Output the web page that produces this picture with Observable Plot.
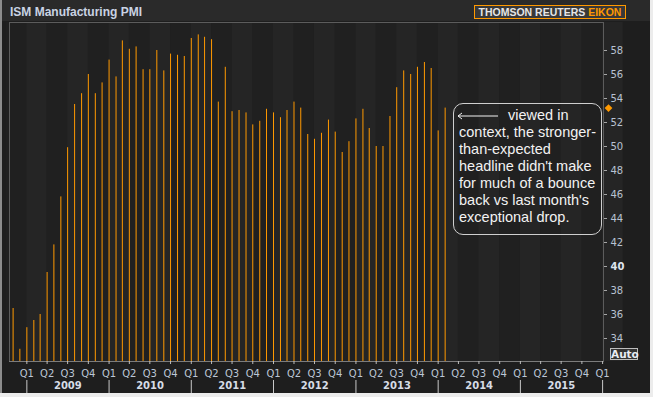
<!DOCTYPE html>
<html><head><meta charset="utf-8">
<script src="https://cdn.jsdelivr.net/npm/d3@7"></script>
<script src="https://cdn.jsdelivr.net/npm/@observablehq/plot@0.6"></script>
<style>
html,body{margin:0;padding:0;background:#ececec;}
#wrap{position:relative;width:653px;height:397px;overflow:hidden;}
#panel{position:absolute;left:0;top:0;width:650px;height:393px;background:#1e1e1e;border-left:2px solid #8c8c8c;box-sizing:border-box;}
#header{position:absolute;left:2px;top:0;width:648px;height:21px;background:#2a2a2a;}
#title{position:absolute;left:10px;top:5px;font:bold 12px "Liberation Sans",Arial,sans-serif;color:#c9d3e3;line-height:14px;white-space:nowrap;}
#logo{position:absolute;left:474px;top:5px;width:150px;height:12px;border:1px solid #ff9900;background:#383838;font:bold 10.5px "Liberation Sans",Arial,sans-serif;color:#e6e6e6;line-height:12px;text-align:center;white-space:nowrap;}
#logo span{color:#ff9900;}
#chart{position:absolute;left:0;top:0;}
#note{position:absolute;left:453px;top:103px;width:149px;height:132px;box-sizing:border-box;border:1.5px solid #cfcfcf;border-radius:10px;padding:3px 0 0 5px;font:14.5px "Liberation Sans",Arial,sans-serif;line-height:17px;color:#f2f2f2;white-space:nowrap;}
#note svg{vertical-align:middle;margin:0 8px 0 -3px;}
#auto{position:absolute;left:610px;top:348px;width:28px;height:12px;box-sizing:border-box;border:1px solid #bdbdbd;background:#333;font:bold 10.5px "DejaVu Sans",sans-serif;color:#e8ecf2;line-height:10px;text-align:center;}
</style></head>
<body>
<div id="wrap">
  <div id="panel"></div>
  <div id="header"></div>
  <div id="title">ISM Manufacturing PMI</div>
  <div id="logo">THOMSON REUTERS <span>EIKON</span></div>
  <div id="chart"></div>
  <div id="note"><svg width="44" height="8"><line x1="2" y1="4" x2="42" y2="4" stroke="#f2f2f2" stroke-width="1"/><path d="M6,1 L2,4 L6,7" fill="none" stroke="#f2f2f2" stroke-width="1"/></svg>viewed in<br>context, the stronger-<br>than-expected<br>headline didn't make<br>for much of a bounce<br>back vs last month's<br>exceptional drop.</div>
  <div id="auto">Auto</div>
</div>
<script>
// Monthly ISM Manufacturing PMI readings
const months = [
  "2008-11","2008-12",
  "2009-01","2009-02","2009-03","2009-04","2009-05","2009-06","2009-07","2009-08","2009-09","2009-10","2009-11","2009-12",
  "2010-01","2010-02","2010-03","2010-04","2010-05","2010-06","2010-07","2010-08","2010-09","2010-10","2010-11","2010-12",
  "2011-01","2011-02","2011-03","2011-04","2011-05","2011-06","2011-07","2011-08","2011-09","2011-10","2011-11","2011-12",
  "2012-01","2012-02","2012-03","2012-04","2012-05","2012-06","2012-07","2012-08","2012-09","2012-10","2012-11","2012-12",
  "2013-01","2013-02","2013-03","2013-04","2013-05","2013-06","2013-07","2013-08","2013-09","2013-10","2013-11","2013-12",
  "2014-01","2014-02"
];
const pmi = [
  36.5, 33.1,
  34.9, 35.5, 36.0, 39.5, 41.8, 45.8, 49.9, 53.5, 54.4, 56.0, 54.4, 55.3,
  57.2, 55.8, 58.8, 58.1, 58.3, 56.4, 56.4, 58.0, 56.3, 57.7, 57.6, 57.5,
  59.0, 59.3, 59.1, 58.9, 53.7, 56.6, 52.9, 53.0, 52.8, 51.8, 52.1, 53.1,
  52.8, 52.4, 53.0, 53.7, 53.2, 51.0, 50.6, 51.1, 52.2, 51.2, 49.5, 50.4,
  52.3, 53.1, 51.5, 50.0, 50.0, 52.5, 54.9, 56.3, 56.0, 56.6, 57.0, 56.5,
  51.3, 53.2
];
const yTicks = [34, 36, 38, 40, 42, 44, 46, 48, 50, 52, 54, 56, 58];
const boldTick = 40;
const quarterLabels = ["Q1", "Q2", "Q3", "Q4"];
const years = [2009, 2010, 2011, 2012, 2013, 2014, 2015];

const yMin = 32.083, yMax = 60.333;
const data = months.map((m, i) => ({date: new Date(m + "-01T00:00:00Z"), value: pmi[i]}));
const last = data[data.length - 1].value;

const quarterStarts = d3.utcMonth.every(3).range(new Date(Date.UTC(2008, 9, 1)), new Date(Date.UTC(2016, 3, 1)));
const bands = quarterStarts.map((d, i) => ({start: d, end: d3.utcMonth.offset(d, 3), i}));
const qTicks = quarterStarts.filter(d => d >= new Date(Date.UTC(2009, 0, 1)) && d <= new Date(Date.UTC(2016, 0, 1)));
const yearStarts = years.concat([years[years.length - 1] + 1]).map(y => new Date(Date.UTC(y, 0, 1)));
const yearMids = years.map(y => new Date(Date.UTC(y, 6, 2)));

const chart = Plot.plot({
  width: 653, height: 397,
  marginLeft: 9, marginRight: 50, marginTop: 22, marginBottom: 36,
  style: {background: "transparent", fontFamily: "'DejaVu Sans', sans-serif", fontSize: "10px"},
  x: {type: "utc", domain: [new Date("2008-10-16T00:00:00Z"), new Date("2016-01-05T00:00:00Z")]},
  y: {domain: [yMin, yMax]},
  marks: [
    Plot.rect(bands.filter(b => b.i % 2 === 0), {x1: "start", x2: "end", fill: "#202020"}),
    Plot.rect(bands.filter(b => b.i % 2 === 1), {x1: "start", x2: "end", fill: "#252525"}),
    Plot.frame({stroke: "#5c5c5c"}),
    Plot.ruleX(data, {x: "date", y1: yMin, y2: "value", stroke: "#ff9900", strokeWidth: 1}),
    Plot.ruleY([yMin], {stroke: "#7c7c7c"}),
    Plot.axisY(yTicks.filter(t => t !== boldTick), {anchor: "right", tickSize: 3, tickPadding: 4, stroke: "#a8a8a8", fill: "#b8c2d2", label: null}),
    Plot.axisY([boldTick], {anchor: "right", tickSize: 3, tickPadding: 4, stroke: "#a8a8a8", fill: "#dfe6f0", fontWeight: "bold", label: null}),
    Plot.axisX(qTicks, {anchor: "bottom", tickSize: 3, tickPadding: 5, stroke: "#bdbdbd", fill: "#bcc6d6",
      tickFormat: d => quarterLabels[Math.floor(d.getUTCMonth() / 3)], label: null}),
    Plot.axisX(yearMids, {anchor: "bottom", tickSize: 0, tickPadding: 20, fill: "#d6dce6", fontWeight: "bold",
      tickFormat: d => String(d.getUTCFullYear()), label: null}),
    Plot.axisX(yearStarts, {anchor: "bottom", tickSize: 13, dy: 19, stroke: "#c8c8c8", tickFormat: () => "", label: null}),
    Plot.dot([last], {y: d => d, frameAnchor: "right", dx: 5, symbol: "diamond2", r: 3.5, fill: "#ff9900", stroke: "none"})
  ]
});
document.getElementById("chart").appendChild(chart);
</script>
</body></html>
